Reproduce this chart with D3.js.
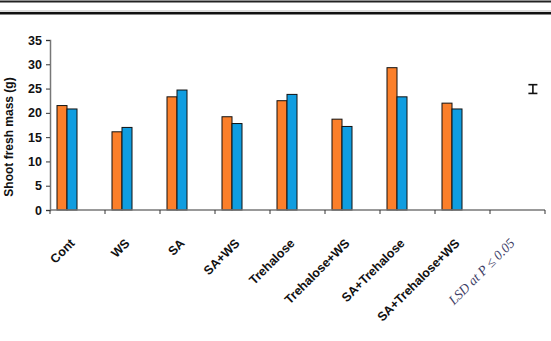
<!DOCTYPE html>
<html>
<head>
<meta charset="utf-8">
<script src="https://cdn.jsdelivr.net/npm/d3@7"></script>
<style>
  body { margin: 0; background: #fff; }
  svg { display: block; font-family: "Liberation Sans", Arial, sans-serif; }
</style>
</head>
<body>
<div id="wrapper"></div>
<script>
// data
const categories = ["Cont", "WS", "SA", "SA+WS", "Trehalose", "Trehalose+WS",
  "SA+Trehalose", "SA+Trehalose+WS", "LSD at P \u2264 0.05"]
const seriesNames = ["s1", "s2"]
const orangeValues = [21.5, 16.1, 23.3, 19.2, 22.5, 18.7, 29.3, 22.0]
const blueValues = [20.8, 17.0, 24.7, 17.8, 23.8, 17.2, 23.3, 20.8]
const lsdCenter = 24.9
const lsdValue = 1.8
const yTicks = [0, 5, 10, 15, 20, 25, 30, 35]
const yLabel = "Shoot fresh mass (g)"

const colors = { s1: "#fb7f2a", s2: "#109de0" }

const dimensions = {
  width: 551,
  height: 341,
  margin: { top: 40, right: 6, bottom: 131, left: 50 },
}
dimensions.boundedWidth = dimensions.width - dimensions.margin.left - dimensions.margin.right
dimensions.boundedHeight = dimensions.height - dimensions.margin.top - dimensions.margin.bottom

const svg = d3.select("#wrapper").append("svg")
  .attr("width", dimensions.width)
  .attr("height", dimensions.height)

// page rules at the top
svg.append("line").attr("x1", 0).attr("x2", 551).attr("y1", 1.5).attr("y2", 1.5)
  .attr("stroke", "#222").attr("stroke-width", 2)
svg.append("line").attr("x1", 0).attr("x2", 551).attr("y1", 11).attr("y2", 11)
  .attr("stroke", "#bbb").attr("stroke-width", 1)
svg.append("line").attr("x1", 0).attr("x2", 551).attr("y1", 13.3).attr("y2", 13.3)
  .attr("stroke", "#111").attr("stroke-width", 2.5)

const bounds = svg.append("g")
  .attr("transform", `translate(${dimensions.margin.left},${dimensions.margin.top})`)

// scales
const xScale = d3.scaleBand()
  .domain(categories)
  .range([0, dimensions.boundedWidth])
  .padding(0)

const subScale = d3.scaleBand()
  .domain(seriesNames)
  .range([0, xScale.bandwidth()])
  .paddingInner(0)
  .paddingOuter(1.75)
  .align(0.2)

const yScale = d3.scaleLinear()
  .domain([0, 35])
  .range([dimensions.boundedHeight, 0])

// bars
const rows = orangeValues.map((v, i) => ({
  cat: categories[i],
  vals: [{ key: "s1", value: v }, { key: "s2", value: blueValues[i] }],
}))

const groups = bounds.selectAll(".group")
  .data(rows)
  .join("g")
  .attr("class", "group")
  .attr("transform", d => `translate(${xScale(d.cat)},0)`)

groups.selectAll("rect")
  .data(d => d.vals)
  .join("rect")
  .attr("x", d => subScale(d.key))
  .attr("width", subScale.bandwidth())
  .attr("y", d => yScale(d.value))
  .attr("height", d => yScale(0) - yScale(d.value))
  .attr("fill", d => colors[d.key])
  .attr("stroke", "#111")
  .attr("stroke-width", 1)

// LSD bar
const lsdX = xScale(categories[8]) + xScale.bandwidth() * 0.78
const lsd = bounds.append("g").attr("stroke", "#111").attr("stroke-width", 1.6)
lsd.append("line")
  .attr("x1", lsdX).attr("x2", lsdX)
  .attr("y1", yScale(lsdCenter + lsdValue / 2)).attr("y2", yScale(lsdCenter - lsdValue / 2))
lsd.selectAll(".cap")
  .data([lsdCenter + lsdValue / 2, lsdCenter - lsdValue / 2])
  .join("line")
  .attr("x1", lsdX - 4.5).attr("x2", lsdX + 4.5)
  .attr("y1", d => yScale(d)).attr("y2", d => yScale(d))

// y axis
const yAxis = bounds.append("g")
  .call(d3.axisLeft(yScale).tickValues(yTicks).tickSize(4).tickPadding(4))
yAxis.select(".domain").attr("stroke", "#777").attr("stroke-width", 1.5)
yAxis.selectAll(".tick line").attr("stroke", "#333")
yAxis.selectAll(".tick text")
  .attr("font-size", 12.5).attr("font-weight", "bold").attr("fill", "#111")
  .attr("font-family", "'Liberation Sans', Arial, sans-serif")

bounds.append("text")
  .attr("transform", `translate(${-37},${yScale(17.5) + 12}) rotate(-90)`)
  .attr("text-anchor", "middle")
  .attr("font-size", 12)
  .attr("font-weight", "bold")
  .attr("fill", "#111")
  .text(yLabel)

// x axis
const xAxis = bounds.append("g")
  .attr("transform", `translate(0,${dimensions.boundedHeight})`)
xAxis.append("line")
  .attr("x1", 0).attr("x2", dimensions.boundedWidth)
  .attr("stroke", "#777").attr("stroke-width", 1.5)
const boundaries = categories.map(c => xScale(c)).concat([xScale.range()[1]])
xAxis.selectAll(".xtick")
  .data(boundaries)
  .join("line")
  .attr("class", "xtick")
  .attr("x1", d => d).attr("x2", d => d)
  .attr("y1", 0).attr("y2", 4)
  .attr("stroke", "#333")

xAxis.selectAll(".xlabel")
  .data(categories)
  .join("text")
  .attr("class", "xlabel")
  .attr("transform", d => `translate(${xScale(d) + xScale.bandwidth() / 2 - 2},${34}) rotate(-45)`)
  .attr("text-anchor", "end")
  .attr("font-size", (d, i) => i === 8 ? 13.5 : 12.5)
  .attr("font-weight", (d, i) => i === 8 ? "normal" : "bold")
  .attr("font-style", (d, i) => i === 8 ? "italic" : "normal")
  .attr("font-family", (d, i) => i === 8 ? "'Liberation Serif', serif" : "'Liberation Sans', Arial, sans-serif")
  .attr("fill", (d, i) => i === 8 ? "#3d3d66" : "#111")
  .text(d => d)
</script>
</body>
</html>
